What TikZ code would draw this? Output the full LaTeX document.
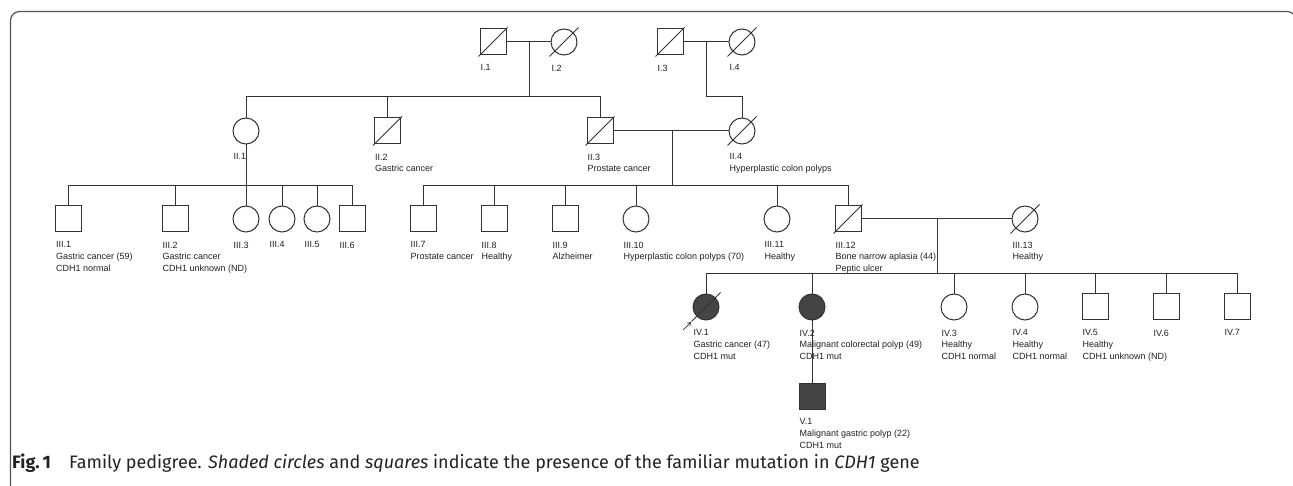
\documentclass[tikz,border=0pt]{standalone}
\usepackage{fontspec}
\setmainfont{Liberation Sans}
\newfontfamily\capfont{Fira Sans}
\usetikzlibrary{arrows.meta,calc}
\definecolor{lc}{HTML}{333333}
\definecolor{fc}{HTML}{454545}
\definecolor{tc}{HTML}{222222}
\definecolor{framec}{HTML}{555555}
\newcommand\pers[5]{\node[#2] (#1) at (#3,#4) {}; \node[lab] (#1l) at (#3-12.5,#4+22.6) {#5};}
\newcommand\dec[1]{\draw[ln] ($(#1)+(-14.5,14.5)$) -- ($(#1)+(14.5,-14.5)$);}
\begin{document}
\begin{tikzpicture}[x=1pt,y=-1pt,
  ln/.style={draw=lc, line width=1pt},
  male/.style={rectangle, draw=lc, line width=1pt, minimum size=26pt, inner sep=0pt, outer sep=0pt},
  female/.style={circle, draw=lc, line width=1pt, minimum size=26pt, inner sep=0pt, outer sep=0pt},
  aff/.style={fill=fc},
  lab/.style={anchor=north west, inner sep=0pt, align=left, font=\fontsize{9}{11.6}\selectfont, text=tc},
]
\useasboundingbox (0,0) rectangle (1293,486);
\fill[white] (0,0) rectangle (1293,486);
\draw[draw=framec, line width=1.2pt, rounded corners=9pt] (10.5,520) -- (10.5,11.5) -- (1296,11.5) -- (1296,520);

% Generation I
\pers{I1}{male}{493}{42}{I.1}
\pers{I2}{female}{564}{42}{I.2}
\pers{I3}{male}{670}{42}{I.3}
\pers{I4}{female}{742}{42}{I.4}
% Generation II
\pers{II1}{female}{246}{131}{II.1}
\pers{II2}{male}{387.5}{131}{II.2\\Gastric cancer}
\pers{II3}{male}{600}{131}{II.3\\Prostate cancer}
\pers{II4}{female}{742}{131}{II.4\\Hyperplastic colon polyps}
% Generation III
\pers{III1}{male}{68.5}{219}{III.1\\Gastric cancer (59)\\CDH1 normal}
\pers{III2}{male}{175}{219}{III.2\\Gastric cancer\\CDH1 unknown (ND)}
\pers{III3}{female}{246}{219}{III.3}
\pers{III4}{female}{282}{219}{III.4}
\pers{III5}{female}{317}{219}{III.5}
\pers{III6}{male}{352}{219}{III.6}
\pers{III7}{male}{423}{219}{III.7\\Prostate cancer}
\pers{III8}{male}{494}{219}{III.8\\Healthy}
\pers{III9}{male}{565}{219}{III.9\\Alzheimer}
\pers{III10}{female}{636}{219}{III.10\\Hyperplastic colon polyps (70)}
\pers{III11}{female}{777}{219}{III.11\\Healthy}
\pers{III12}{male}{848}{219}{III.12\\Bone narrow aplasia (44)\\Peptic ulcer}
\pers{III13}{female}{1025}{219}{III.13\\Healthy}
% Generation IV
\pers{IV1}{female,aff}{706}{307}{IV.1\\Gastric cancer (47)\\CDH1 mut}
\pers{IV2}{female,aff}{812}{307}{IV.2\\Malignant colorectal polyp (49)\\CDH1 mut}
\pers{IV3}{female}{954}{307}{IV.3\\Healthy\\CDH1 normal}
\pers{IV4}{female}{1025}{307}{IV.4\\Healthy\\CDH1 normal}
\pers{IV5}{male}{1095}{307}{IV.5\\Healthy\\CDH1 unknown (ND)}
\pers{IV6}{male}{1166}{307}{IV.6}
\pers{IV7}{male}{1237}{307}{IV.7}
% Generation V
\pers{V1}{male,aff}{812}{396}{V.1\\Malignant gastric polyp (22)\\CDH1 mut}

% deceased marks
\dec{I1}\dec{I2}\dec{I3}\dec{I4}
\dec{II2}\dec{II3}\dec{II4}
\dec{III12}\dec{III13}
\dec{IV1}

% connectors
\coordinate (m1) at (529,42);
\coordinate (s1) at (529,97);
\draw[ln] (I1) -- (I2);
\draw[ln] (m1) -- (s1);
\draw[ln] (II1.north) -- (II1.north |- s1) -- (II3.north |- s1) -- (II3.north);
\draw[ln] (II2.north) -- (II2.north |- s1);

\coordinate (m2) at (706,42);
\coordinate (c2) at (706,97);
\draw[ln] (I3) -- (I4);
\draw[ln] (m2) -- (c2) -| (II4.north);

\coordinate (m3) at (672,131);
\coordinate (s3) at (672,186);
\draw[ln] (II3) -- (II4);
\draw[ln] (m3) -- (s3);
\draw[ln] (III7.north) -- (III7.north |- s3) -- (III12.north |- s3) -- (III12.north);
\foreach \n in {III8,III9,III10,III11} \draw[ln] (\n.north) -- (\n.north |- s3);

\coordinate (s2) at (246,186);
\draw[ln] (II1.south) -- (III3.north);
\draw[ln] (III1.north) -- (III1.north |- s2) -- (III6.north |- s2) -- (III6.north);
\foreach \n in {III2,III4,III5} \draw[ln] (\n.north) -- (\n.north |- s2);

\coordinate (m4) at (937,219);
\coordinate (s4) at (937,274);
\draw[ln] (III12) -- (III13);
\draw[ln] (m4) -- (s4);
\draw[ln] (IV1.north) -- (IV1.north |- s4) -- (IV7.north |- s4) -- (IV7.north);
\foreach \n in {IV2,IV3,IV4,IV5,IV6} \draw[ln] (\n.north) -- (\n.north |- s4);

\draw[ln] (IV2) -- (V1);

% proband arrow
\coordinate (pa) at (683,330);
\coordinate (pb) at (691,322);
\draw[ln, line width=0.7pt, -{Straight Barb[length=3pt,width=4pt]}] (pa) -- (pb);

% caption
\node[anchor=base west, inner sep=0pt, text=tc, font=\capfont\fontsize{18}{20}\selectfont] (cap) at (12,468)
 {\textbf{Fig.\,1}\quad Family pedigree. \textit{Shaded circles} and \textit{squares} indicate the presence of the familiar mutation in \textit{CDH1} gene};
\end{tikzpicture}
\end{document}
